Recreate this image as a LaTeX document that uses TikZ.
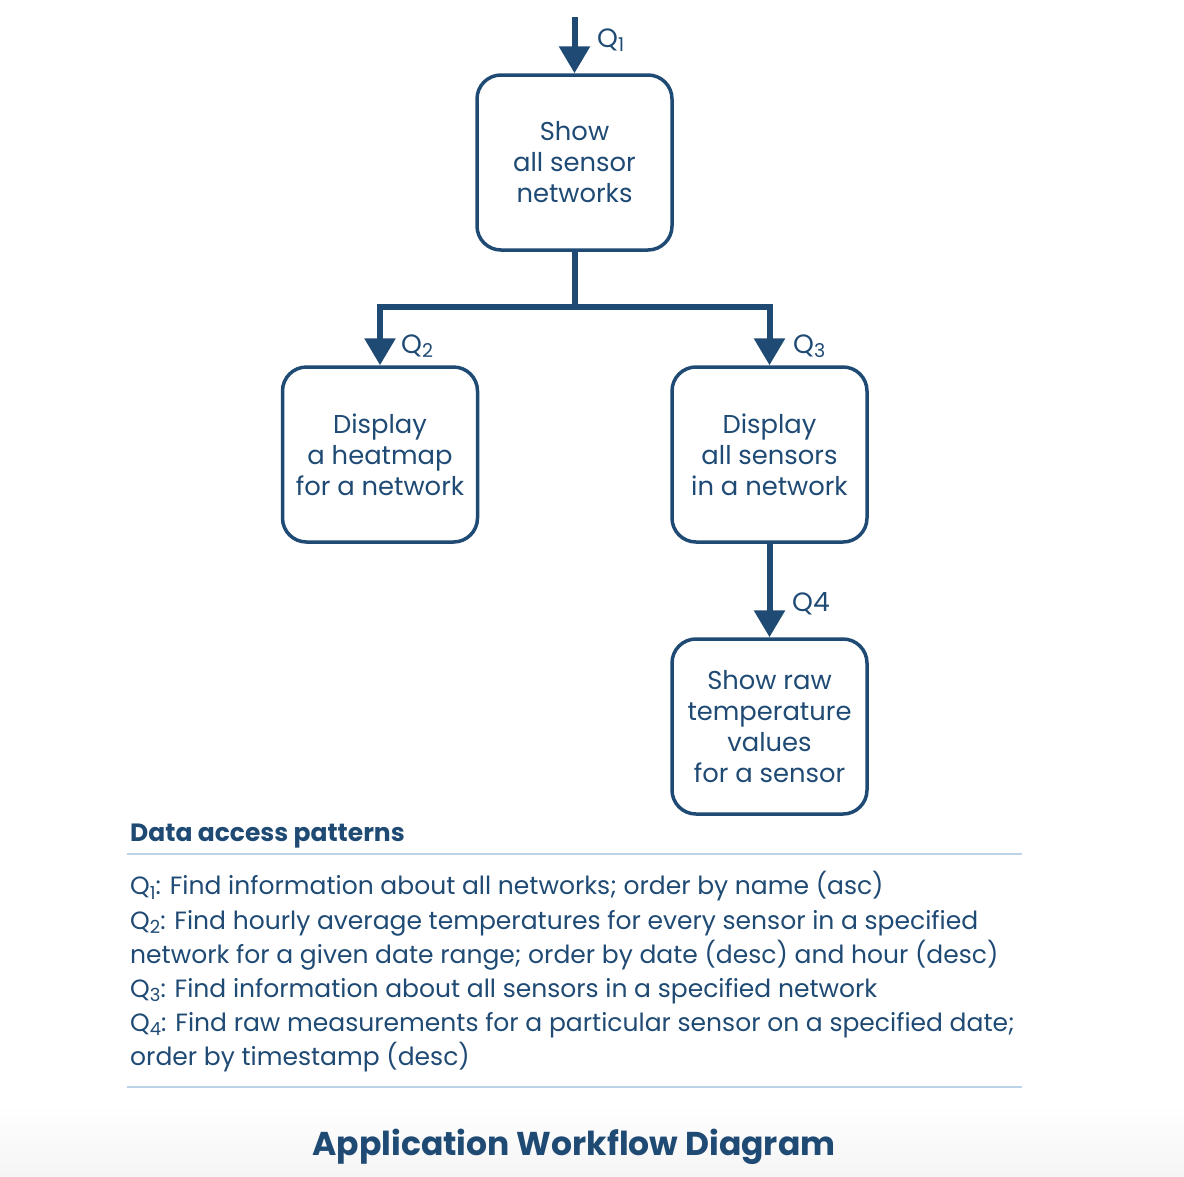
\documentclass[tikz,border=0pt]{standalone}
\usepackage{fontspec}
\setmainfont{Poppins}
\usetikzlibrary{arrows.meta}
\definecolor{navy}{HTML}{1F4A74}
\definecolor{rulec}{HTML}{BCD3EA}
\newcommand\qs[2]{\raisebox{-0.3ex}{\fontsize{#1}{#1}\selectfont #2}}
\tikzset{
  box/.style={draw=navy, line width=3.5pt, rounded corners=24pt, minimum width=195pt, minimum height=175pt, align=center, text=navy, font=\fontsize{25.8}{31}\selectfont, inner sep=0pt},
  conn/.style={draw=navy, line width=6pt, -{Triangle[width=30pt,length=27pt]}},
  trunk/.style={draw=navy, line width=6pt},
  qlab/.style={text=navy, font=\fontsize{26.5}{30}\selectfont, inner sep=0pt},
  body/.style={text=navy, font=\fontsize{25}{34.2}\selectfont, align=left, inner sep=0pt},
  hrule/.style={draw=rulec, line width=1.5pt}
}
\begin{document}
\begin{tikzpicture}[x=1pt,y=-1pt]
\useasboundingbox (0,0) rectangle (1184,1176);
\shade[top color=white, bottom color=black!4] (0,1105) rectangle (1184,1176);
\node[box] (b1) at (574.5,162.5) {Show\\all sensor\\networks};
\node[box] (b2) at (380,454.5) {Display\\a heatmap\\for a network};
\node[box] (b3) at (769.5,454.5) {Display\\all sensors\\in a network};
\node[box] (b4) at (769.5,726.5) {Show raw\\temperature\\values\\for a sensor};
\coordinate (top) at (574.5,17);
\coordinate (j) at (574.5,307);
\draw[conn] (top) -- (b1.north);
\draw[trunk] (b1.south) -- (j);
\draw[conn] (j) -| (b2.north);
\draw[conn] (j) -| (b3.north);
\draw[conn] (b3.south) -- (b4.north);
\node[qlab, anchor=west] (q1) at (597,40) {Q\qs{19}{1}};
\node[qlab, anchor=west] (q2) at (401,346) {Q\qs{19}{2}};
\node[qlab, anchor=west] (q3) at (793,346) {Q\qs{19}{3}};
\node[qlab, anchor=west] (q4) at (792,604) {Q4};
\node[text=navy, font=\bfseries\fontsize{25}{30}\selectfont, anchor=west, inner sep=0pt] (dap) at (130,836) {Data access patterns};
\coordinate (r1a) at (127,854);
\coordinate (r1b) at (1022,854);
\draw[hrule] (r1a) -- (r1b);
\node[body, anchor=west] (list) at (130,972) {Q\qs{18}{1}: Find information about all networks; order by name (asc)\\
Q\qs{18}{2}: Find hourly average temperatures for every sensor in a specified\\
network for a given date range; order by date (desc) and hour (desc)\\
Q\qs{18}{3}: Find information about all sensors in a specified network\\
Q\qs{18}{4}: Find raw measurements for a particular sensor on a specified date;\\
order by timestamp (desc)};
\coordinate (r2a) at (127,1087);
\coordinate (r2b) at (1022,1087);
\draw[hrule] (r2a) -- (r2b);
\node[text=navy, font=\bfseries\fontsize{33}{38}\selectfont, inner sep=0pt] (title) at (574,1147) {Application Workflow Diagram};
\end{tikzpicture}
\end{document}
